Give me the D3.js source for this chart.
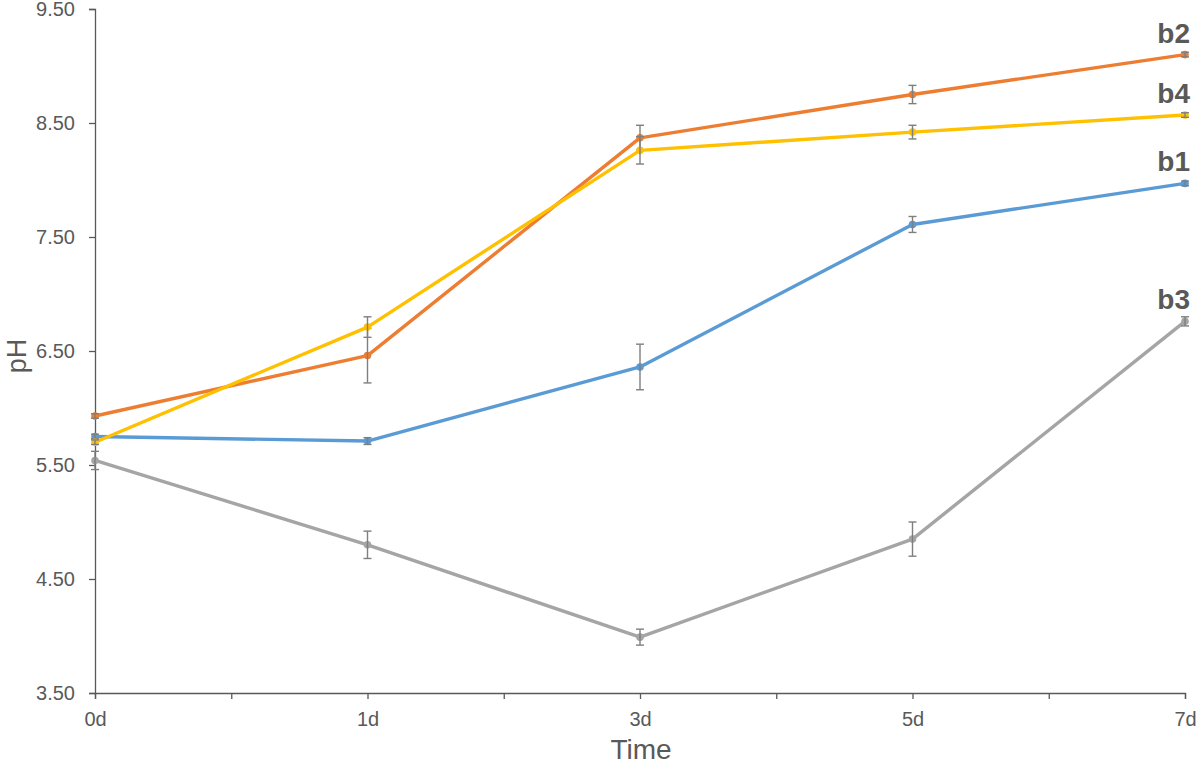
<!DOCTYPE html>
<html>
<head>
<meta charset="utf-8">
<script src="https://cdn.jsdelivr.net/npm/d3@7"></script>
<style>
  body { margin: 0; background: #fff; }
  text { font-family: "Liberation Sans", Arial, sans-serif; }
</style>
</head>
<body>
<div id="chart"></div>
<script>
var days = ["0d", "1d", "3d", "5d", "7d"];
var yTicks = [3.5, 4.5, 5.5, 6.5, 7.5, 8.5, 9.5];

var b1 = [5.75, 5.71, 6.36, 7.61, 7.97];
var b1Err = [0.02, 0.03, 0.20, 0.07, 0.02];
var b2 = [5.93, 6.46, 8.37, 8.75, 9.10];
var b2Err = [0.02, 0.24, 0.11, 0.08, 0.02];
var b3 = [5.54, 4.80, 3.99, 4.85, 6.76];
var b3Err = [0.08, 0.12, 0.07, 0.15, 0.04];
var b4 = [5.70, 6.71, 8.26, 8.42, 8.57];
var b4Err = [0.02, 0.09, 0.12, 0.06, 0.02];

var colors = { b1: "#5b9bd5", b2: "#ed7d31", b3: "#a5a5a5", b4: "#ffc000" };

var series = [
    { name: "b1", values: b1, err: b1Err },
    { name: "b3", values: b3, err: b3Err },
    { name: "b2", values: b2, err: b2Err },
    { name: "b4", values: b4, err: b4Err }
];

var width = 1197, height = 764;

var svg = d3.select("#chart")
    .append("svg")
    .attr("width", width)
    .attr("height", height);

var x = d3.scaleLinear()
    .domain([0, days.length - 1])
    .range([95, 1185]);

var y = d3.scaleLinear()
    .domain([3.5, 9.5])
    .range([693, 9]);

// y axis
var yAxis = svg.append("g")
    .attr("transform", "translate(95,0)")
    .call(d3.axisLeft(y).tickValues(yTicks).tickFormat(d3.format(".2f")).tickSizeOuter(0).tickSize(6).tickPadding(14));
yAxis.select(".domain").attr("stroke", "#595959").attr("stroke-width", 1.3);
yAxis.selectAll(".tick line").attr("stroke", "#595959").attr("stroke-width", 1.3);
yAxis.selectAll(".tick text")
    .attr("fill", "#595959")
    .style("font-size", "20px");

// x axis with minor ticks between categories
var xAxis = svg.append("g")
    .attr("transform", "translate(0,693)")
    .call(d3.axisBottom(x)
        .tickValues(d3.range(0, days.length - 0.99, 0.5))
        .tickFormat(function (d) { return d % 1 === 0 ? days[d] : ""; })
        .tickSizeOuter(0).tickSize(6).tickPadding(13));
xAxis.select(".domain").attr("stroke", "#595959").attr("stroke-width", 1.3);
xAxis.selectAll(".tick line").attr("stroke", "#595959").attr("stroke-width", 1.3);
xAxis.selectAll(".tick text")
    .attr("fill", "#595959")
    .style("font-size", "20px");

// axis titles
svg.append("text")
    .attr("x", 641)
    .attr("y", 759)
    .attr("text-anchor", "middle")
    .attr("fill", "#595959")
    .style("font-size", "28px")
    .text("Time");

svg.append("text")
    .attr("transform", "translate(26,356) rotate(-90)")
    .attr("text-anchor", "middle")
    .attr("fill", "#595959")
    .style("font-size", "27px")
    .text("pH");

var line = d3.line()
    .x(function (d, i) { return x(i); })
    .y(function (d) { return y(d); });

series.forEach(function (s) {
    var g = svg.append("g");
    var c = colors[s.name];

    g.append("path")
        .datum(s.values)
        .attr("fill", "none")
        .attr("stroke", c)
        .attr("stroke-width", 3.4)
        .attr("stroke-linejoin", "round")
        .attr("d", line);

    g.selectAll("circle")
        .data(s.values)
        .enter().append("circle")
        .attr("cx", function (d, i) { return x(i); })
        .attr("cy", function (d) { return y(d); })
        .attr("r", 3.8)
        .attr("fill", c);

    // error bars
    var eb = g.selectAll(".err")
        .data(s.values)
        .enter().append("g")
        .attr("stroke", "#7f7f7f")
        .attr("stroke-width", 1.4);
    eb.append("line")
        .attr("x1", function (d, i) { return x(i); })
        .attr("x2", function (d, i) { return x(i); })
        .attr("y1", function (d, i) { return y(d + s.err[i]); })
        .attr("y2", function (d, i) { return y(d - s.err[i]); });
    eb.append("line")
        .attr("x1", function (d, i) { return x(i) - 4; })
        .attr("x2", function (d, i) { return x(i) + 4; })
        .attr("y1", function (d, i) { return y(d + s.err[i]); })
        .attr("y2", function (d, i) { return y(d + s.err[i]); });
    eb.append("line")
        .attr("x1", function (d, i) { return x(i) - 4; })
        .attr("x2", function (d, i) { return x(i) + 4; })
        .attr("y1", function (d, i) { return y(d - s.err[i]); })
        .attr("y2", function (d, i) { return y(d - s.err[i]); });
});

// series labels at the end of each line
series.forEach(function (s) {
    var last = s.values.length - 1;
    svg.append("text")
        .attr("x", 1190)
        .attr("y", y(s.values[last]) - 12)
        .attr("text-anchor", "end")
        .attr("fill", "#595959")
        .style("font-family", "'Liberation Sans Narrow', 'Arial Narrow', 'Liberation Sans', sans-serif")
        .style("font-weight", "bold")
        .style("font-size", "28px")
        .text(s.name);
});
</script>
</body>
</html>
